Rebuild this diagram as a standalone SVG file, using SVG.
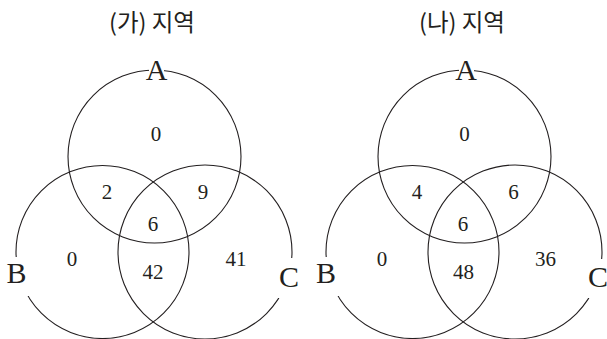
<svg xmlns="http://www.w3.org/2000/svg" width="607" height="339" viewBox="0 0 607 339">
<style>
.c{fill:none;stroke:#231f20;stroke-width:1.1}
.t{font-family:"Noto Sans CJK KR","Noto Sans",sans-serif;font-size:23.5px;fill:#231f20;text-anchor:middle}
.n{font-family:"Liberation Serif","DejaVu Serif",serif;font-size:21px;fill:#231f20;text-anchor:middle}
.l{font-family:"Liberation Serif","DejaVu Serif",serif;font-size:30px;fill:#231f20;text-anchor:middle}
.bg{fill:#fff}
</style>
<rect width="607" height="339" fill="#fff"/>
<g id="left">
  <text class="t" x="152" y="31">(가) 지역</text>
  <g id="circlesL">
    <circle class="c" cx="154.5" cy="156.5" r="86.5"/>
    <circle class="c" cx="102.5" cy="252" r="86.5"/>
    <circle class="c" cx="205" cy="252" r="87"/>
  </g>
  <g id="labelA-L"><rect class="bg" x="149" y="64" width="15" height="12"/><text class="l" x="156.5" y="80">A</text></g>
  <g id="labelB-L"><rect class="bg" x="3" y="257" width="26" height="39"/><text class="l" x="16.5" y="283">B</text></g>
  <g id="labelC-L"><rect class="bg" x="277" y="258" width="28" height="40"/><text class="l" x="289" y="287">C</text></g>
  <g id="numsL">
    <text class="n" x="156" y="141">0</text>
    <text class="n" x="107" y="199">2</text>
    <text class="n" x="203" y="199">9</text>
    <text class="n" x="153" y="231">6</text>
    <text class="n" x="72" y="266">0</text>
    <text class="n" x="153" y="279">42</text>
    <text class="n" x="236" y="266">41</text>
  </g>
</g>
<g id="right">
  <text class="t" x="462" y="31">(나) 지역</text>
  <g id="circlesR">
    <circle class="c" cx="464.5" cy="156.5" r="86.5"/>
    <circle class="c" cx="412.5" cy="252" r="86.5"/>
    <circle class="c" cx="515" cy="252" r="87"/>
  </g>
  <g id="labelA-R"><rect class="bg" x="459" y="64" width="15" height="12"/><text class="l" x="466" y="80">A</text></g>
  <g id="labelB-R"><rect class="bg" x="313" y="257" width="26" height="39"/><text class="l" x="326" y="283">B</text></g>
  <g id="labelC-R"><rect class="bg" x="587" y="259" width="20" height="39"/><text class="l" x="598" y="287">C</text></g>
  <g id="numsR">
    <text class="n" x="464.5" y="141">0</text>
    <text class="n" x="417" y="199">4</text>
    <text class="n" x="513.5" y="199">6</text>
    <text class="n" x="463" y="231">6</text>
    <text class="n" x="382" y="266">0</text>
    <text class="n" x="463.5" y="279">48</text>
    <text class="n" x="545.5" y="266">36</text>
  </g>
</g>
</svg>
